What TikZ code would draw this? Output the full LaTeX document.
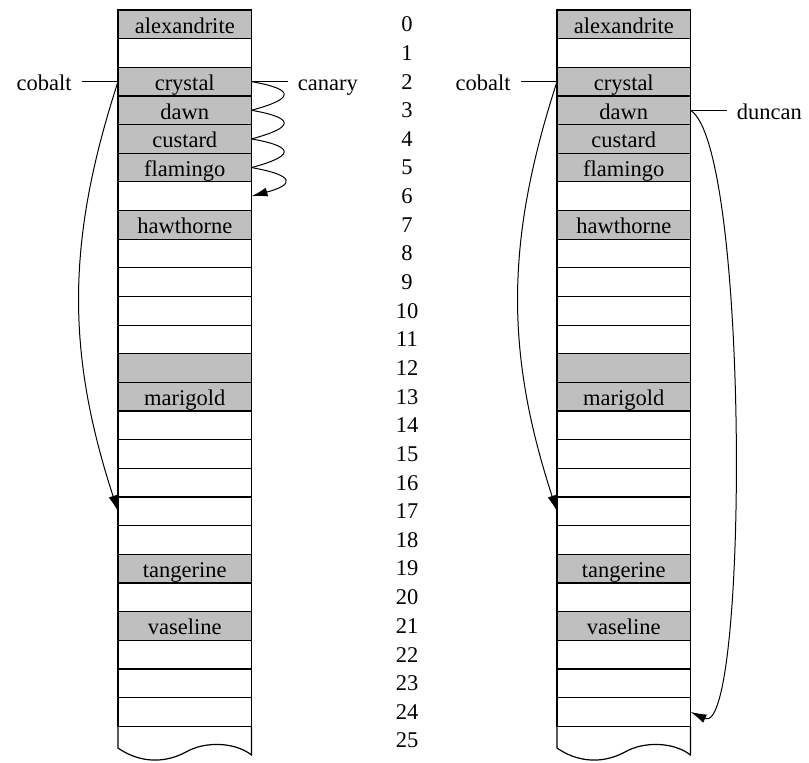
\documentclass[tikz,border=0pt]{standalone}
\usepackage{fontspec}
\setmainfont{Liberation Serif}
\usetikzlibrary{arrows.meta}
\usetikzlibrary{positioning}

\tikzset{
  cell/.style={draw, line width=0.6pt, minimum width=66.75pt, minimum height=14.325pt,
    inner sep=0pt, outer sep=0pt, anchor=north west, text height=9pt, text depth=0pt},
  used/.style={cell, fill=black!25},
  lbl/.style={inner sep=5pt, text height=9pt, text depth=0pt},
  ptr/.style={->, line width=0.5pt},
  >={Latex[length=8pt,width=4.5pt]},
}

\begin{document}
\begin{tikzpicture}[x=0.5pt, y=0.5pt, font=\fontsize{11.25}{13.5}\selectfont]
        \useasboundingbox (0,0) rectangle (809,-763);
        % memory cells, left and right snapshot
        \foreach \i/\txt/\st in {0/alexandrite/used, 1//cell, 2/crystal/used, 3/dawn/used,
            4/custard/used, 5/flamingo/used, 6//cell, 7/hawthorne/used, 8//cell, 9//cell,
            10//cell, 11//cell, 12//used, 13/marigold/used, 14//cell, 15//cell, 16//cell,
            17//cell, 18//cell, 19/tangerine/used, 20//cell, 21/vaseline/used, 22//cell,
            23//cell, 24//cell} {
            \node[\st] (L\i) at (118, {-10-28.65*\i}) {\txt};
            \node[\st] (R\i) at (557, {-10-28.65*\i}) {\txt};
        }
        \foreach \i in {0,...,25}
            \node (n\i) at (407, {-24.3-28.65*\i}) {\i};
        % open bottom cell
        \foreach \dx in {0,439} {
            \begin{scope}[shift={(\dx,0)}]
                \draw[line width=0.6pt] (118,-726.3) -- (118,-748)
                    .. controls (135,-760) and (160,-766) .. (186,-752)
                    .. controls (205,-741) and (235,-742) .. (251.5,-755) -- (251.5,-726.3);
            \end{scope}
        }
        % left
        \node[lbl, left=18pt of L2.west] (cobaltL) {cobalt};
        \draw[line width=0.5pt] (cobaltL) -- (L2.west);
        \draw[ptr] (L2.west) to[bend right=18] (L17.west);
        \node[lbl, right=18pt of L2.east] (canary) {canary};
        \draw[line width=0.5pt] (L2.east) -- (canary);
        \draw[line width=0.5pt] (L2.east) to[out=-10, in=15, looseness=4] (L3.east);
        \draw[line width=0.5pt] (L3.east) to[out=-10, in=15, looseness=4] (L4.east);
        \draw[line width=0.5pt] (L4.east) to[out=-10, in=15, looseness=4] (L5.east);
        \draw[ptr] (L5.east) to[out=-10, in=15, looseness=4] (L6.east);
        % right
        \node[lbl, left=18pt of R2.west] (cobaltR) {cobalt};
        \draw[line width=0.5pt] (cobaltR) -- (R2.west);
        \draw[ptr] (R2.west) to[bend right=18] (R17.west);
        \node[lbl, right=18pt of R3.east] (duncan) {duncan};
        \draw[line width=0.5pt] (R3.east) -- (duncan);
        \draw[ptr] (R3.east) to[out=-32, in=-25, out distance=35pt, in distance=32pt] (R24.east);
\end{tikzpicture}
\end{document}
